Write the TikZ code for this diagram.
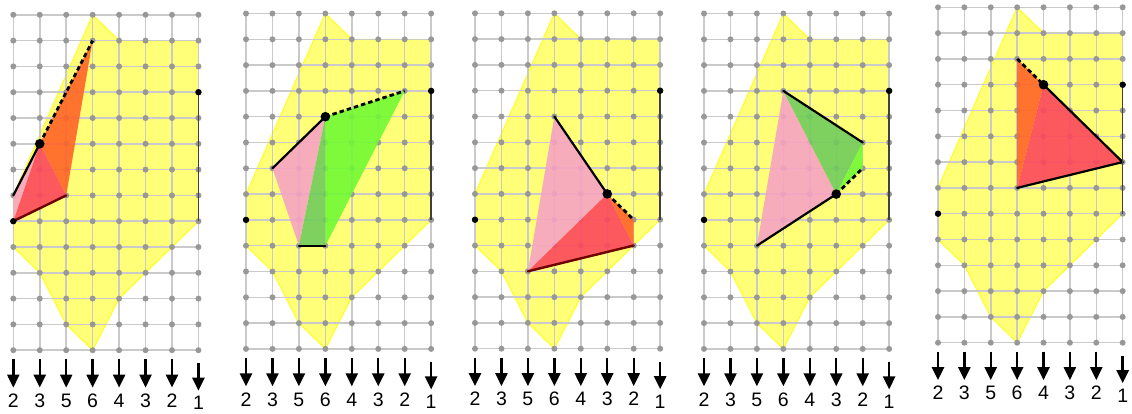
\documentclass[tikz,border=0pt]{standalone}
\usepackage{fontspec}
\setmainfont{Liberation Sans}
\usetikzlibrary{arrows.meta}
\definecolor{yel}{RGB}{255,255,120}
\definecolor{yeledge}{RGB}{255,255,30}
\definecolor{gridc}{RGB}{202,202,202}
\definecolor{dotc}{RGB}{152,152,152}
\definecolor{pinkf}{RGB}{246,164,194}
\definecolor{redf}{RGB}{252,72,92}
\definecolor{orangef}{RGB}{255,100,38}
\definecolor{greenb}{RGB}{112,250,52}
\definecolor{greend}{RGB}{112,204,92}
\definecolor{darkredc}{RGB}{110,0,0}
\tikzset{
  yellowpoly/.style={fill=yel, draw=yeledge, line width=1pt, line join=round},
  gridline/.style={draw=gridc, line width=1.5pt},
  griddot/.style={fill=dotc},
  tri/.style={fill opacity=0.9},
  blackedge/.style={draw=black, line width=2.2pt, line cap=round},
  rededge/.style={draw=darkredc, line width=2.4pt, line cap=round},
  dashedge/.style={draw=black, line width=2.8pt, dash pattern=on 4.5pt off 3pt},
  sidebar/.style={draw=black!75, line width=1.4pt},
  downarrow/.style={-{Triangle[width=12pt,length=13pt]}, line width=2.4pt},
  lab/.style={anchor=base, inner sep=0pt, font=\fontsize{19.5}{21}\selectfont},
}
\newcommand{\panelbase}{%
  \fill[yellowpoly] (3,0)--(4,1)--(7,1)--(7,8)--(4,11)--(3,13)--(2,12)--(1,10)--(0,9)--(0,7)--cycle;
  \foreach \c in {0,...,7} \draw[gridline] (\c,0)--(\c,13);
  \foreach \r in {0,...,13} \draw[gridline] (0,\r)--(7,\r);
  \foreach \c in {0,...,7} \foreach \r in {0,...,13} \fill[griddot] (\c,\r) circle[radius=3pt];
}
\newcommand{\panelfront}{%
  \coordinate (ctop) at (7,3);
  \coordinate (cbot) at (7,8);
  \coordinate (lpt) at (0,8);
  \draw[sidebar] (ctop)--(cbot);
  \fill (ctop) circle[radius=3.2pt];
  \fill (lpt) circle[radius=3.2pt];
  \foreach \t [count=\i from 0] in {2,3,5,6,4,3,2} {
    \coordinate (as\i) at (\i,13.35);
    \coordinate (ae\i) at (\i,14.45);
    \draw[downarrow] (as\i)--(ae\i);
    \node[lab] (l\i) at (\i,15.22) {\t};
  }
  \coordinate (as7) at (7,13.5);
  \coordinate (ae7) at (7,14.57);
  \draw[downarrow] (as7)--(ae7);
  \node[lab] (l7) at (7,15.3) {1};
}
\begin{document}
\begin{tikzpicture}
\useasboundingbox (0pt,0pt) rectangle (1132pt,-413pt);
\fill[white] (0pt,0pt) rectangle (1132pt,-413pt);
% Panel 1
\begin{scope}[shift={(13.3pt,-14.8pt)}, x=26.45pt, y=-25.8pt]
  \panelbase
  \coordinate (p1a) at (0,7); \coordinate (p1b) at (1,5); \coordinate (p1c) at (3,1);
  \coordinate (p1d) at (2,7); \coordinate (p1e) at (0,8);
  \fill[pinkf, tri] (p1a)--(p1b)--(p1e)--cycle;
  \fill[orangef, tri] (p1b)--(p1c)--(p1d)--cycle;
  \fill[redf, tri] (p1e)--(p1b)--(p1d)--cycle;
  \draw[dashedge] (p1b)--(p1c);
  \draw[blackedge] (p1a)--(p1b);
  \draw[rededge] (p1e)--(p1d);
  \panelfront
  \fill (p1b) circle[radius=4.8pt];
\end{scope}
% Panel 2
\begin{scope}[shift={(246pt,-13.5pt)}, x=26.45pt, y=-25.8pt]
  \panelbase
  \coordinate (p2a) at (1,6); \coordinate (p2b) at (3,4); \coordinate (p2c) at (6,3);
  \coordinate (p2d) at (2,9); \coordinate (p2e) at (3,9);
  \fill[pinkf, tri] (p2a)--(p2b)--(p2d)--cycle;
  \fill[greend, tri] (p2d)--(p2b)--(p2e)--cycle;
  \fill[greenb, tri] (p2b)--(p2c)--(p2e)--cycle;
  \draw[dashedge] (p2b)--(p2c);
  \draw[blackedge] (p2a)--(p2b);
  \draw[blackedge, line width=1.8pt] (p2d)--(p2e);
  \panelfront
  \fill (p2b) circle[radius=4.8pt];
\end{scope}
% Panel 3
\begin{scope}[shift={(475pt,-13.3pt)}, x=26.45pt, y=-25.8pt]
  \panelbase
  \coordinate (p3a) at (3,4); \coordinate (p3b) at (5,7); \coordinate (p3c) at (6,8);
  \coordinate (p3d) at (6,9); \coordinate (p3e) at (2,10);
  \fill[pinkf, tri] (p3a)--(p3b)--(p3e)--cycle;
  \fill[redf, tri] (p3e)--(p3b)--(p3d)--cycle;
  \fill[orangef, tri] (p3b)--(p3c)--(p3d)--cycle;
  \draw[dashedge] (p3b)--(p3c);
  \draw[blackedge] (p3a)--(p3b);
  \draw[rededge] (p3e)--(p3d);
  \panelfront
  \fill (p3b) circle[radius=4.8pt];
\end{scope}
% Panel 4
\begin{scope}[shift={(704pt,-13.5pt)}, x=26.45pt, y=-25.8pt]
  \panelbase
  \coordinate (p4a) at (3,3); \coordinate (p4b) at (6,5); \coordinate (p4c) at (6,6);
  \coordinate (p4d) at (5,7); \coordinate (p4e) at (2,9);
  \fill[pinkf, tri] (p4a)--(p4e)--(p4d)--cycle;
  \fill[greend, tri] (p4a)--(p4b)--(p4d)--cycle;
  \fill[greenb, tri] (p4d)--(p4b)--(p4c)--cycle;
  \draw[dashedge] (p4d)--(p4c);
  \draw[blackedge] (p4a)--(p4b);
  \draw[blackedge] (p4e)--(p4d);
  \panelfront
  \fill (p4d) circle[radius=4.8pt];
\end{scope}
% Panel 5
\begin{scope}[shift={(938pt,-7.3pt)}, x=26.38pt, y=-25.8pt]
  \panelbase
  \coordinate (p5a) at (3,2); \coordinate (p5b) at (4,3); \coordinate (p5c) at (7,6);
  \coordinate (p5d) at (3,7);
  \fill[orangef, tri] (p5a)--(p5b)--(p5d)--cycle;
  \fill[redf, tri] (p5b)--(p5c)--(p5d)--cycle;
  \draw[dashedge] (p5a)--(p5b);
  \draw[blackedge] (p5b)--(p5c);
  \draw[blackedge] (p5d)--(p5c);
  \panelfront
  \fill (p5b) circle[radius=4.8pt];
\end{scope}
\end{tikzpicture}
\end{document}
